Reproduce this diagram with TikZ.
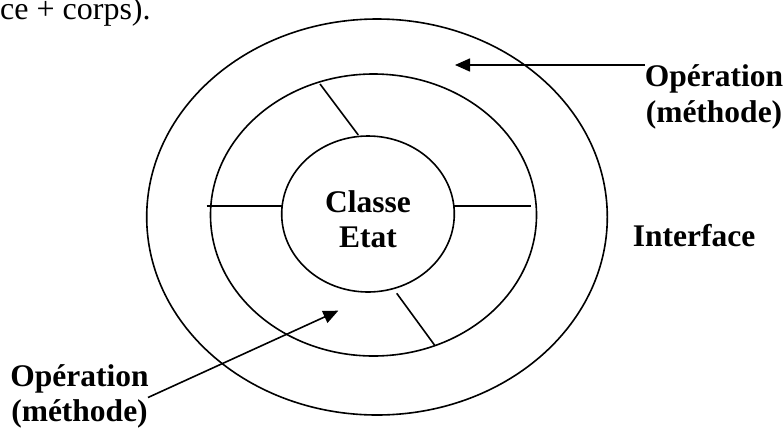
\documentclass[tikz,border=0pt]{standalone}
\usepackage{fontspec}
\setmainfont{Liberation Serif}
\usetikzlibrary{shapes.geometric,arrows.meta}
\tikzset{
  ring/.style={ellipse, draw, line width=1.6pt, inner sep=0pt, outer sep=0pt},
  sep/.style={line width=1.6pt},
  ptr/.style={line width=1.6pt, -{Triangle[length=15pt,width=13pt]}},
  lbl/.style={font=\fontsize{31.5pt}{35.5pt}\selectfont\bfseries, inner sep=0pt, align=center},
}
\begin{document}
\begin{tikzpicture}[x=1pt,y=-1pt]
\useasboundingbox (0,0) rectangle (784,429);
% fragment of the preceding sentence
\node[font=\fontsize{32pt}{36pt}\selectfont, inner sep=0pt, anchor=base west] (prev) at (0,19) {ce + corps).};
% rings
\node[ring, minimum width=460.6pt, minimum height=396pt] (outer) at (377,217) {};
\node[ring, minimum width=326pt, minimum height=282pt] (middle) at (373.5,215) {};
\node[ring, minimum width=172.6pt, minimum height=156pt] (inner) at (368,214) {};
% separators
\coordinate (l1a) at (206.7,205.7); \coordinate (l1b) at (282.7,205.7);
\coordinate (l2a) at (453,205.7);   \coordinate (l2b) at (530.7,205.7);
\coordinate (l3a) at (320,84);      \coordinate (l3b) at (358.3,135);
\coordinate (l4a) at (396.7,293.3); \coordinate (l4b) at (435,345.7);
\draw[sep] (l1a) -- (l1b);
\draw[sep] (l2a) -- (l2b);
\draw[sep] (l3a) -- (l3b);
\draw[sep] (l4a) -- (l4b);
% labels (base anchor = baseline of the last line)
\node[lbl, anchor=base] (classe) at (368,247.7) {Classe\\Etat};
\node[lbl, anchor=base west] (iface) at (632.7,246.5) {Interface};
\node[lbl, anchor=base] (opTop) at (714,122) {Opération\\(méthode)};
\node[lbl, anchor=base] (opBot) at (79.5,421.5) {Opération\\(méthode)};
% pointers
\coordinate (tipTop) at (455,65);
\coordinate (tipBot) at (338.3,310.7);
\coordinate (startTop) at (645,65);
\coordinate (startBot) at (148,397.5);
\draw[ptr] (startTop) -- (tipTop);
\draw[ptr] (startBot) -- (tipBot);
\end{tikzpicture}
\end{document}
